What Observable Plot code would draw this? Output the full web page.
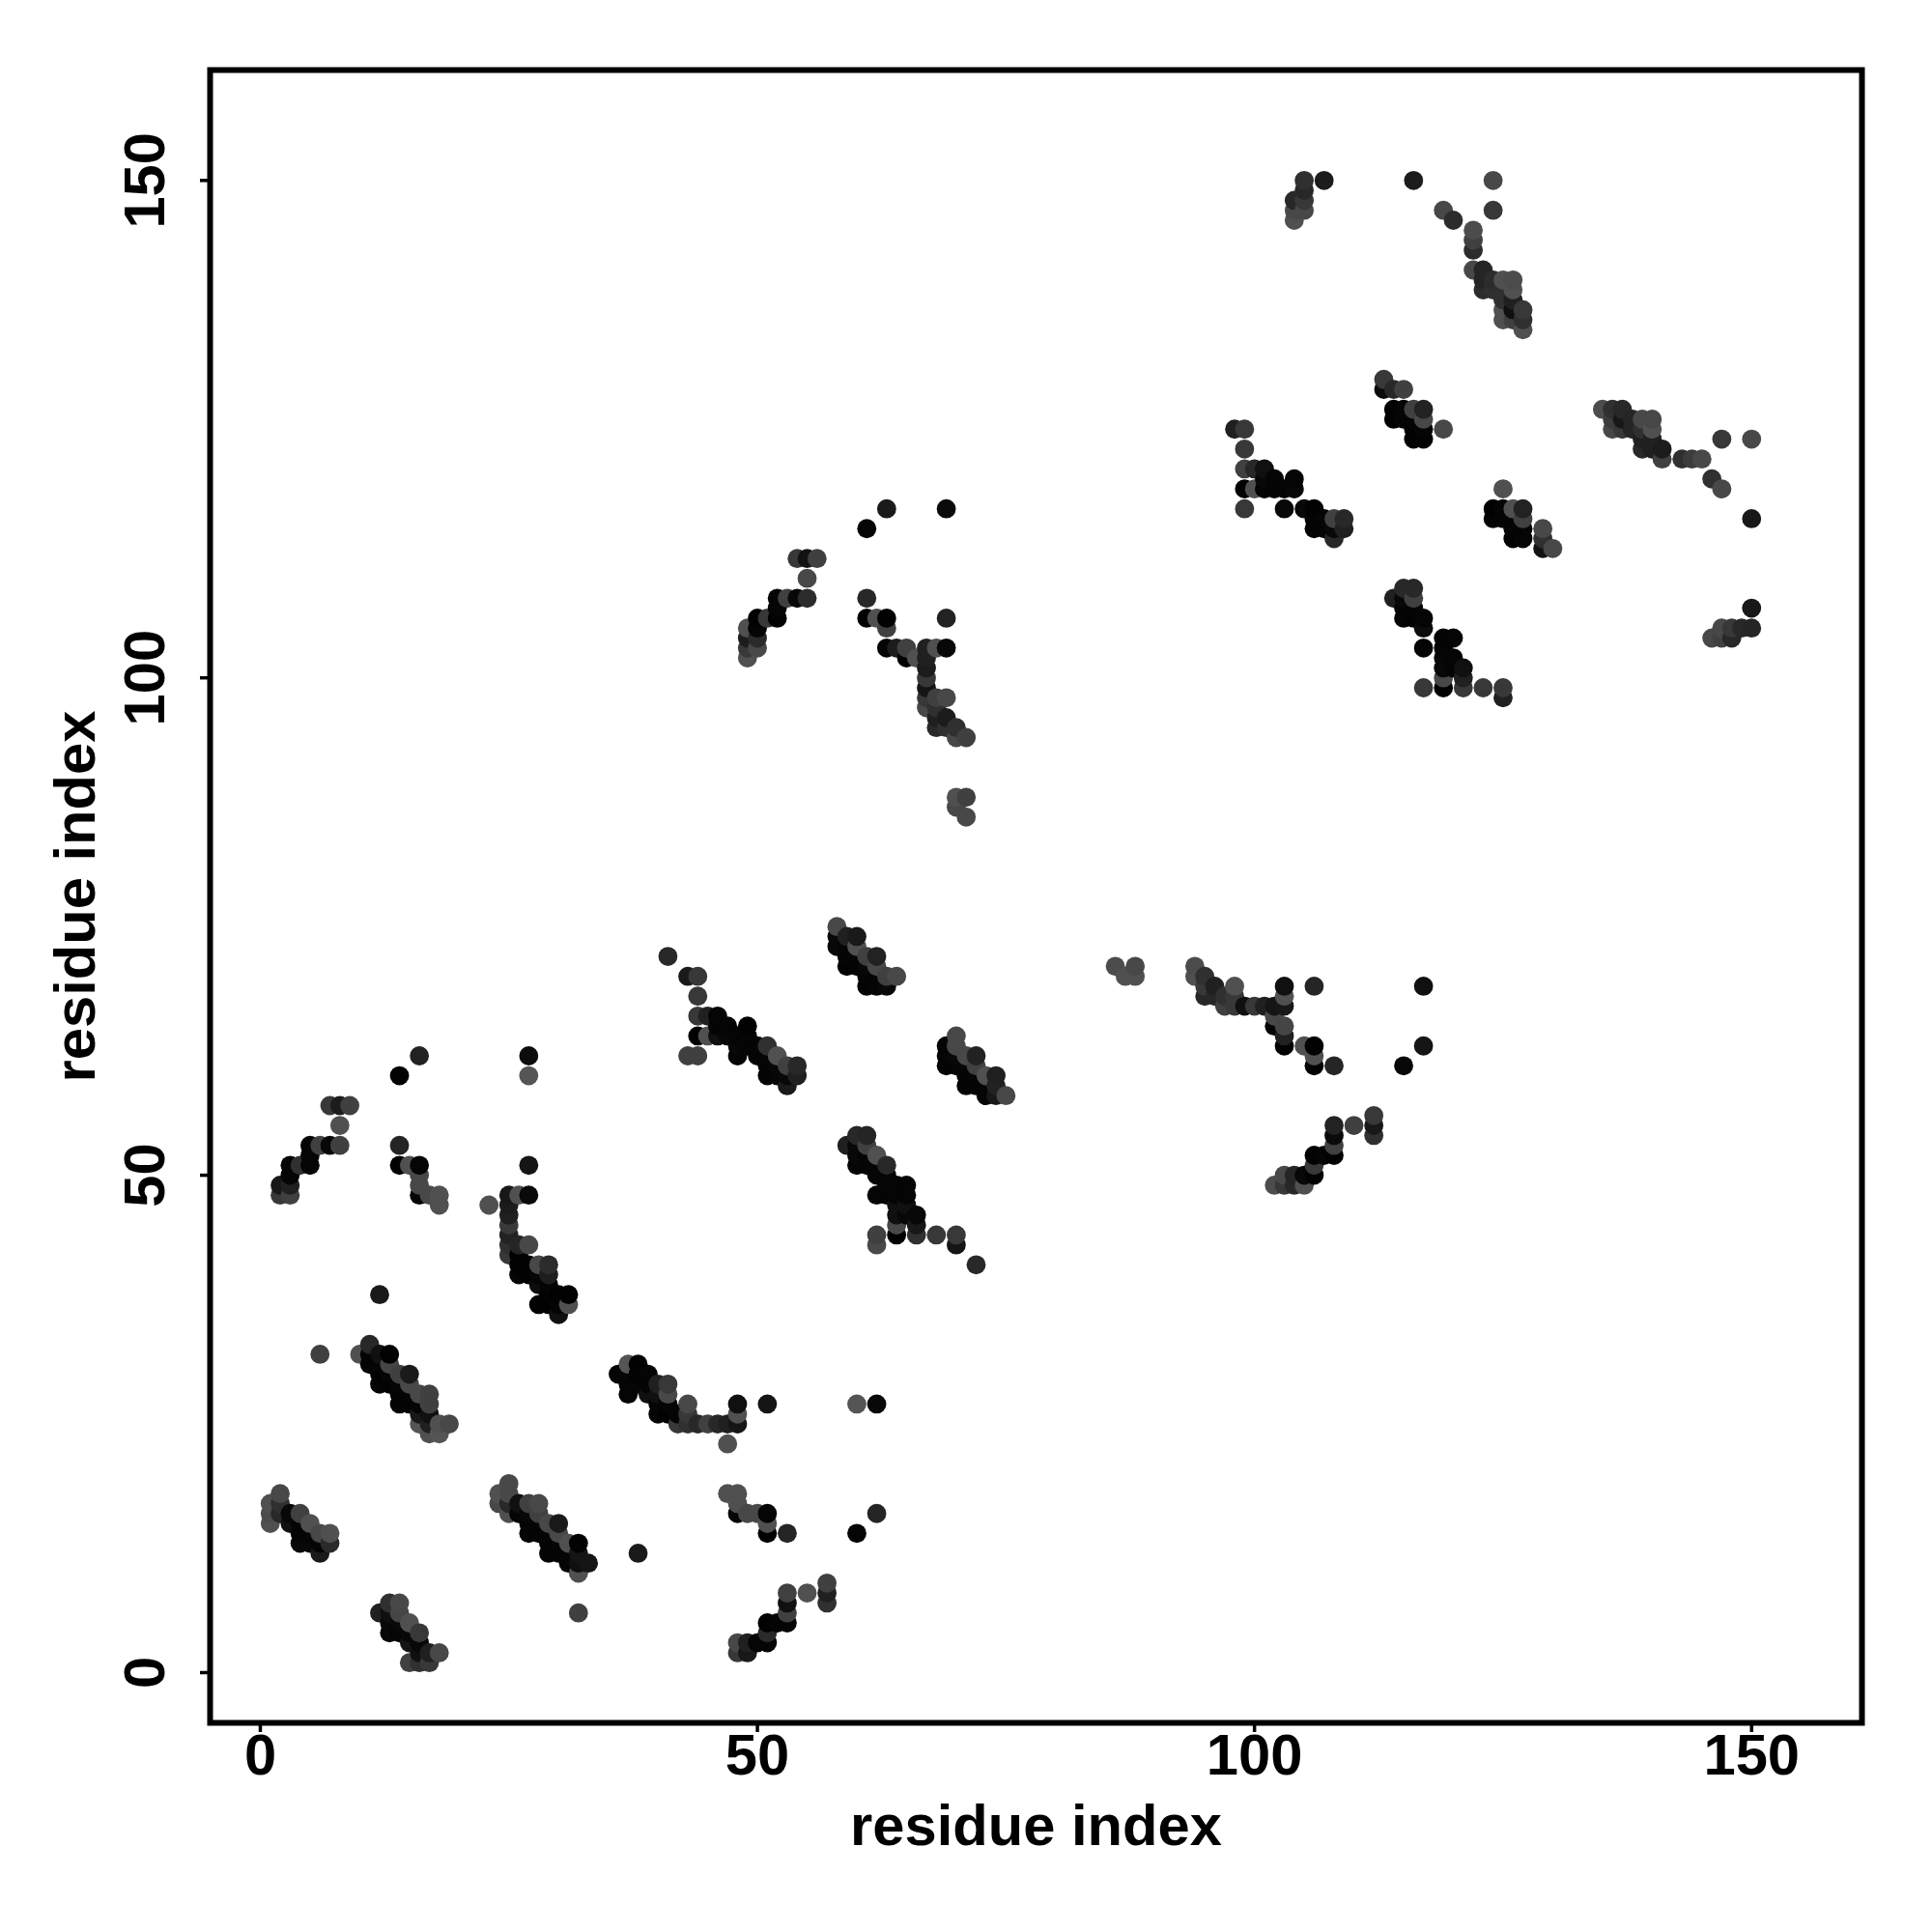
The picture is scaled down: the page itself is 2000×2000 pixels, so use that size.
<!DOCTYPE html>
<html>
<head>
<meta charset="utf-8">
<script src="https://cdn.jsdelivr.net/npm/d3@7"></script>
<script src="https://cdn.jsdelivr.net/npm/@observablehq/plot@0.6"></script>
<style>html,body{margin:0;padding:0;background:#fff}svg{display:block}</style>
</head>
<body>
<div id="chart"></div>
<script>
// each contact: [residue i, residue j, grey level 0-255]
const block01 = [[2,18,0x48],[1,17,0x50],[1,16,0x4c],[1,15,0x50],[2,17,0x30],[2,16,0x28],[3,16,0x08],[3,15,0x10],[4,16,0x40],[4,15,0x05],[4,14,0x05],[4,13,0x08],[5,15,0x50],[5,14,0x05],[5,13,0x08],[6,14,0x48],[6,13,0x05],[6,12,0x1a],[7,14,0x50],[7,13,0x2a]];
const block02 = [[13,7,0x30],[14,7,0x48],[12,6,0x20],[13,6,0x10],[14,6,0x45],[15,5,0x50],[13,5,0x08],[14,5,0x08],[13,4,0x08],[14,4,0x05],[15,4,0x08],[16,4,0x38],[15,3,0x14],[16,3,0x08],[16,2,0x10],[17,2,0x20],[18,2,0x48],[15,1,0x40],[16,1,0x30],[17,1,0x38]];
const block03 = [[6,32,0x40],[11,33,0x28],[10,32,0x50],[11,32,0x05],[12,32,0x10],[13,32,0x02],[11,31,0x05],[12,31,0x05],[13,31,0x45],[12,30,0x02],[13,30,0x05],[14,30,0x40],[15,30,0x1a],[12,29,0x05],[13,29,0x02],[14,29,0x05],[15,29,0x48],[14,28,0x05],[15,28,0x05],[16,28,0x48],[17,28,0x40],[14,27,0x05],[15,27,0x05],[16,27,0x05],[17,27,0x40],[16,26,0x18],[17,26,0x10],[16,25,0x55],[17,25,0x20],[18,25,0x50],[19,25,0x48],[17,24,0x50],[18,24,0x55]];
const block04 = [[25,19,0x48],[24,18,0x50],[25,18,0x48],[24,17,0x48],[25,17,0x28],[26,17,0x10],[27,17,0x40],[28,17,0x48],[25,16,0x50],[26,16,0x05],[27,16,0x08],[28,16,0x40],[27,15,0x05],[28,15,0x05],[29,15,0x48],[30,15,0x1a],[27,14,0x05],[28,14,0x05],[29,14,0x05],[30,14,0x48],[29,13,0x05],[30,13,0x05],[31,13,0x50],[32,13,0x02],[29,12,0x05],[30,12,0x05],[31,12,0x05],[32,12,0x14],[31,11,0x05],[32,11,0x10],[33,11,0x15],[32,10,0x50],[32,6,0x40],[38,12,0x1a]];
const block05 = [[37,31,0x55],[38,31,0x02],[36,30,0x05],[37,30,0x05],[38,30,0x02],[39,30,0x05],[37,29,0x05],[38,29,0x05],[39,29,0x05],[40,29,0x20],[41,29,0x38],[37,28,0x05],[39,28,0x10],[40,28,0x10],[41,28,0x48],[40,27,0x05],[41,27,0x05],[40,26,0x05],[41,26,0x02],[42,26,0x05],[43,27,0x48],[42,25,0x38],[43,26,0x38],[43,25,0x30],[44,25,0x28],[45,25,0x40],[46,25,0x28],[47,25,0x20],[48,25,0x15],[48,26,0x50],[48,27,0x10],[51,27,0x15],[47,23,0x50],[60,27,0x55],[62,27,0x08]];
const block06 = [[47,18,0x50],[48,18,0x50],[48,17,0x50],[48,16,0x05],[49,16,0x48],[50,16,0x48],[51,16,0x05],[51,15,0x50],[51,14,0x02],[53,14,0x25],[62,16,0x25],[60,14,0x05]];
const block07 = [[57,9,0x40],[57,8,0x20],[57,7,0x30],[55,8,0x50],[53,8,0x40],[53,7,0x10],[53,6,0x40],[53,5,0x05],[52,5,0x05],[51,5,0x02],[51,4,0x2a],[51,3,0x05],[50,3,0x05],[49,3,0x20],[48,3,0x48],[49,2,0x18],[48,2,0x38]];
const block08 = [[7,57,0x38],[8,57,0x1c],[9,57,0x40],[8,55,0x50],[5,53,0x05],[6,53,0x40],[7,53,0x08],[8,53,0x40],[5,52,0x05],[3,51,0x05],[4,51,0x30],[5,51,0x05],[3,50,0x05],[2,49,0x18],[3,49,0x20],[2,48,0x38],[3,48,0x40]];
const block09 = [[16,62,0x22],[14,60,0x02],[14,53,0x25],[14,51,0x02],[15,51,0x50],[16,51,0x05],[16,50,0x48],[16,49,0x48],[16,48,0x05],[17,48,0x48],[18,48,0x50],[18,47,0x50]];
const block10 = [[27,62,0x0c],[27,60,0x55],[27,51,0x15],[23,47,0x50],[25,48,0x18],[26,48,0x50],[27,48,0x0a],[25,47,0x1c],[25,46,0x20],[25,45,0x3a],[25,44,0x22],[25,43,0x30],[26,43,0x25],[27,43,0x48],[25,42,0x38],[26,42,0x02],[26,41,0x02],[26,40,0x05],[27,41,0x02],[27,40,0x02],[28,41,0x48],[29,41,0x2c],[29,40,0x1e],[28,40,0x05],[28,39,0x0c],[29,39,0x05],[29,38,0x02],[30,38,0x02],[31,38,0x02],[28,37,0x02],[29,37,0x02],[30,37,0x05],[31,37,0x50],[30,36,0x10],[12,38,0x1a]];
const block11 = [[41,72,0x28],[43,70,0x1a],[44,70,0x38],[44,68,0x38],[44,66,0x38],[45,66,0x20],[46,66,0x05],[44,64,0x02],[45,64,0x50],[46,64,0x10],[46,65,0x05],[47,65,0x05],[47,64,0x08],[49,65,0x02],[48,64,0x05],[49,64,0x05],[48,63,0x08],[49,63,0x05],[48,62,0x05],[50,63,0x05],[50,62,0x05],[51,63,0x30],[52,62,0x50],[51,62,0x05],[51,61,0x05],[52,61,0x08],[53,61,0x40],[54,61,0x28],[51,60,0x05],[52,60,0x05],[53,60,0x08],[54,60,0x20],[53,59,0x1a],[43,62,0x40],[44,62,0x40]];
const block12 = [[58,75,0x48],[58,74,0x08],[59,74,0x20],[60,74,0x1a],[58,73,0x08],[59,73,0x05],[60,73,0x50],[59,72,0x05],[60,72,0x05],[61,72,0x40],[62,72,0x22],[59,71,0x02],[60,71,0x05],[61,71,0x08],[62,71,0x48],[61,70,0x05],[62,70,0x05],[63,70,0x40],[64,70,0x48],[61,69,0x02],[62,69,0x05],[63,69,0x08]];
const block13 = [[70,64,0x48],[69,63,0x05],[70,63,0x48],[69,62,0x05],[70,62,0x08],[71,62,0x48],[72,62,0x22],[69,61,0x05],[70,61,0x05],[71,61,0x05],[72,61,0x40],[71,60,0x05],[72,60,0x05],[73,60,0x50],[74,60,0x20],[71,59,0x05],[72,59,0x05],[73,59,0x05],[74,59,0x22],[73,58,0x05],[74,58,0x18],[75,58,0x48]];
const block14 = [[59,53,0x20],[60,54,0x28],[61,54,0x25],[60,53,0x08],[61,53,0x40],[60,52,0x08],[61,52,0x05],[62,52,0x50],[60,51,0x05],[61,51,0x05],[62,51,0x05],[63,51,0x28],[62,50,0x05],[63,50,0x05],[62,48,0x05],[63,49,0x05],[64,49,0x05],[65,49,0x05],[63,48,0x05],[64,48,0x05],[65,48,0x05],[64,47,0x10],[65,47,0x10],[64,46,0x10],[65,46,0x08],[66,46,0x08],[66,45,0x18],[64,45,0x48],[62,44,0x40],[64,44,0x02],[66,44,0x30],[68,44,0x38],[70,44,0x38],[62,43,0x48],[70,43,0x15],[72,41,0x28]];
const block15 = [[86,71,0x4c],[88,71,0x48],[87,70,0x50],[88,70,0x50]];
const block16 = [[94,71,0x4c],[94,70,0x50],[95,70,0x30],[95,69,0x38],[95,68,0x28],[96,69,0x20],[96,68,0x28],[97,68,0x30],[98,69,0x50],[98,68,0x38],[97,67,0x40],[98,67,0x38],[99,67,0x10],[100,67,0x38],[101,67,0x20],[102,67,0x15],[103,67,0x18],[103,69,0x10],[103,68,0x50],[102,66,0x48],[102,65,0x05],[103,65,0x45],[103,64,0x20],[103,63,0x02],[106,69,0x25],[117,69,0x10],[117,63,0x15],[115,61,0x08],[105,63,0x50],[106,63,0x02],[106,62,0x50],[106,61,0x02],[108,61,0x25]];
const block17 = [[112,56,0x38],[112,55,0x18],[112,54,0x30],[110,55,0x40],[108,55,0x22],[108,54,0x0a],[108,53,0x40],[108,52,0x02],[107,52,0x05],[106,52,0x02],[106,51,0x38],[106,50,0x02],[105,50,0x08],[104,50,0x25],[103,50,0x48],[102,49,0x4c],[103,49,0x38],[104,49,0x28],[105,49,0x50]];
const block18 = [[54,112,0x38],[55,112,0x12],[56,112,0x40],[55,110,0x48],[52,108,0x05],[53,108,0x40],[54,108,0x08],[55,108,0x2c],[52,107,0x05],[50,106,0x02],[51,106,0x38],[52,106,0x02],[50,105,0x05],[49,105,0x50],[49,104,0x1c],[50,104,0x2a],[49,103,0x38],[50,103,0x48],[49,102,0x50]];
const block19 = [[63,117,0x1a],[69,117,0x0a],[61,115,0x05],[61,108,0x28],[61,106,0x02],[62,106,0x50],[63,106,0x02],[63,105,0x40],[69,106,0x22],[63,103,0x05],[64,103,0x1c],[65,103,0x40],[65,102,0x02],[66,102,0x50],[67,103,0x20],[68,103,0x50],[69,103,0x08],[67,102,0x20],[67,101,0x1c],[67,100,0x38],[67,99,0x15],[67,98,0x38],[67,97,0x48],[68,98,0x40],[69,98,0x48],[68,97,0x30],[68,96,0x20],[68,95,0x28],[69,96,0x1c],[69,95,0x30],[70,95,0x30],[70,94,0x48],[71,94,0x40],[70,88,0x50],[71,88,0x40],[70,87,0x48],[71,86,0x48]];
const block20 = [[98,125,0x20],[99,125,0x38],[99,123,0x38],[99,121,0x40],[100,121,0x28],[101,121,0x10],[99,119,0x02],[100,119,0x50],[101,119,0x05],[101,120,0x08],[102,120,0x05],[102,119,0x05],[103,119,0x05],[104,120,0x05],[104,119,0x08],[99,117,0x38],[103,117,0x08],[105,117,0x08],[106,117,0x02],[106,116,0x05],[106,115,0x05],[107,116,0x05],[107,115,0x05],[108,116,0x40],[109,116,0x28],[108,115,0x08],[109,115,0x20],[108,114,0x28]];
const block21 = [[114,108,0x20],[115,109,0x28],[116,109,0x28],[115,108,0x08],[116,108,0x40],[115,106,0x05],[115,107,0x05],[116,107,0x05],[116,106,0x02],[117,106,0x05],[117,105,0x0c],[117,103,0x05],[119,104,0x05],[120,104,0x05],[119,103,0x05],[119,102,0x08],[120,102,0x05],[119,101,0x08],[120,101,0x05],[121,101,0x10],[121,100,0x20],[119,100,0x48],[119,99,0x02],[121,99,0x38],[117,99,0x38],[123,99,0x38],[125,99,0x38],[125,98,0x20]];
const block22 = [[125,119,0x50],[124,117,0x02],[125,117,0x05],[126,117,0x50],[127,117,0x22],[124,116,0x05],[125,116,0x05],[126,116,0x05],[127,116,0x40],[126,115,0x05],[127,115,0x05],[126,114,0x02],[127,114,0x05],[129,115,0x48],[129,114,0x30],[129,113,0x12],[130,113,0x48]];
const block23 = [[113,130,0x38],[113,129,0x0c],[114,129,0x28],[115,129,0x40],[114,127,0x02],[115,127,0x05],[116,127,0x40],[117,127,0x22],[114,126,0x02],[115,126,0x05],[116,126,0x05],[117,126,0x48],[116,125,0x02],[117,125,0x05],[116,124,0x02],[117,124,0x02],[119,125,0x48]];
const block24 = [[105,150,0x30],[107,150,0x1c],[105,149,0x28],[105,148,0x38],[104,148,0x28],[105,147,0x48],[104,147,0x48],[104,146,0x50],[116,150,0x1c],[124,150,0x48],[124,147,0x38],[119,147,0x48],[120,146,0x2c],[122,145,0x4c],[122,144,0x40],[122,143,0x2c],[122,141,0x48],[123,141,0x25],[123,140,0x25],[123,139,0x2c],[124,140,0x2c],[124,139,0x30],[125,140,0x50],[126,140,0x4c],[125,139,0x30],[126,139,0x50],[125,138,0x30],[126,138,0x20],[126,137,0x10],[125,137,0x50],[125,136,0x50],[126,136,0x40],[127,137,0x38],[127,136,0x30],[127,135,0x50]];
const block25 = [[135,127,0x4c],[136,127,0x30],[137,127,0x28],[136,125,0x48],[136,126,0x3c],[137,126,0x18],[137,125,0x38],[138,126,0x25],[138,125,0x25],[139,126,0x48],[140,126,0x48],[139,125,0x30],[140,125,0x50],[139,124,0x20],[140,124,0x20],[139,123,0x28],[140,123,0x20],[141,123,0x1c],[141,122,0x40],[143,122,0x30],[144,122,0x3c],[145,122,0x48],[147,124,0x38],[150,124,0x48],[146,120,0x30],[147,119,0x48],[150,116,0x18],[150,107,0x18],[147,105,0x48],[148,105,0x38],[149,105,0x28],[150,105,0x25],[146,104,0x48],[147,104,0x40],[148,104,0x28]];

const tickValues = [0, 50, 100, 150];
const axisLabel = "residue index";

const contacts = d3.sort(
  [block01, block02, block03, block04, block05, block06, block07, block08, block09, block10,
   block11, block12, block13, block14, block15, block16, block17, block18, block19, block20,
   block21, block22, block23, block24, block25].flat(),
  d => d[0], d => d[1]
);

const fontFamily = '"Liberation Sans", Arial, sans-serif';
const plot = Plot.plot({
  width: 2000,
  height: 2000,
  marginLeft: 217,
  marginRight: 73,
  marginTop: 72,
  marginBottom: 217,
  style: {fontFamily, fontWeight: "bold", background: "#fff", color: "#000"},
  x: {domain: [-5.05, 161.1], range: [217, 1927]},
  y: {domain: [-5.05, 161.1], range: [1783, 72]},
  color: {type: "linear", domain: [0, 255], range: ["rgb(0,0,0)", "rgb(255,255,255)"]},
  marks: [
    Plot.dot(contacts, {x: d => d[0], y: d => d[1], fill: d => d[2], r: 9.9, stroke: null}),
    Plot.frame({stroke: "#000", strokeWidth: 6}),
    Plot.axisX({
      ticks: tickValues, tickFormat: d => d, tickSize: 10, strokeWidth: 3.5, tickPadding: 1,
      fontSize: 59.7, label: axisLabel, labelAnchor: "center", labelArrow: "none", labelOffset: 126
    }),
    Plot.axisY({
      ticks: tickValues, tickFormat: d => d, tickSize: 10, strokeWidth: 3.5, tickPadding: 38,
      tickRotate: -90, textAnchor: "middle",
      fontSize: 59.7, label: axisLabel, labelAnchor: "center", labelArrow: "none", labelOffset: 162
    })
  ]
});
document.getElementById("chart").appendChild(plot);
</script>
</body>
</html>
